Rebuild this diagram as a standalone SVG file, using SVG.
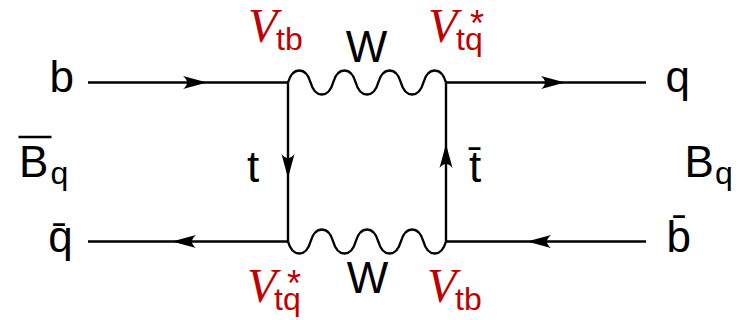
<svg xmlns="http://www.w3.org/2000/svg" xmlns:xlink="http://www.w3.org/1999/xlink" width="737" height="320" viewBox="0 0 737 320">
  <style>
    .lbl { font-family: "Liberation Sans", Arial, sans-serif; font-size: 44px; fill: #000; }
    .sub { font-family: "Liberation Sans", Arial, sans-serif; font-size: 32px; fill: #000; }
    .vc { font-family: "Liberation Serif", "Times New Roman", serif; font-style: italic; font-size: 48px; fill: #c00000; }
    .vs { font-family: "Liberation Sans", Arial, sans-serif; font-style: normal; font-size: 32px; fill: #c00000; }
    .vst { font-family: "Liberation Sans", Arial, sans-serif; font-style: normal; font-size: 36px; fill: #c00000; }
    .ln { fill: none; stroke: #000; stroke-width: 2.4; stroke-linecap: butt; }
    .bar { fill: none; stroke: #000; stroke-width: 2.6; }
    .ah { fill: #000; stroke: none; }
  </style>
  <defs>
    <path id="wave" class="ln" d="M0,0 C1.693,-6 5.079,-12 11.286,-12 C17.493,-12 20.879,-6 22.571,0 C24.264,6 27.65,12 33.857,12 C40.064,12 43.45,6 45.143,0 C46.836,-6 50.222,-12 56.429,-12 C62.636,-12 66.022,-6 67.714,0 C69.407,6 72.793,12 79,12 C85.207,12 88.593,6 90.286,0 C91.979,-6 95.365,-12 101.571,-12 C107.778,-12 111.164,-6 112.857,0 C114.55,6 117.936,12 124.143,12 C130.35,12 133.736,6 135.429,0 C137.122,-6 140.508,-12 146.714,-12 C152.921,-12 156.307,-6 158,0"/>
    <path id="arr" class="ah" d="M0,0 L-24,-6.5 Q-16,0 -24,6.5 Z"/>
  </defs>

  <g id="connectors">
    <line class="ln" x1="88" y1="82.5" x2="288" y2="82.5"/>
    <line class="ln" x1="446" y1="82.5" x2="646" y2="82.5"/>
    <line class="ln" x1="88" y1="241.5" x2="288" y2="241.5"/>
    <line class="ln" x1="446" y1="241.5" x2="646" y2="241.5"/>
    <line class="ln" x1="288" y1="82.5" x2="288" y2="241.5"/>
    <line class="ln" x1="446" y1="82.5" x2="446" y2="241.5"/>
    <use xlink:href="#wave" href="#wave" transform="translate(288,82.5)"/>
    <use xlink:href="#wave" href="#wave" transform="translate(288,241.5) scale(1,-1)"/>
    <use xlink:href="#arr" href="#arr" transform="translate(207,82.5)"/>
    <use xlink:href="#arr" href="#arr" transform="translate(565,82.5)"/>
    <use xlink:href="#arr" href="#arr" transform="translate(172,241.5) rotate(180)"/>
    <use xlink:href="#arr" href="#arr" transform="translate(527,241.5) rotate(180)"/>
    <use xlink:href="#arr" href="#arr" transform="translate(288,178) rotate(90)"/>
    <use xlink:href="#arr" href="#arr" transform="translate(446,144) rotate(-90)"/>
  </g>

  <g id="ext-b"><text class="lbl" x="49.5" y="92">b</text></g>
  <g id="ext-qbar"><text class="lbl" x="48.3" y="252">q̄</text></g>
  <g id="ext-q"><text class="lbl" x="665.5" y="92">q</text></g>
  <g id="ext-bbar"><text class="lbl" x="666.5" y="252">b̄</text></g>

  <g id="meson-Bbar">
    <line class="bar" x1="18.5" y1="137" x2="51.5" y2="137"/>
    <text class="lbl" x="19" y="177">B<tspan class="sub" x="50.5" y="184">q</tspan></text>
  </g>
  <g id="meson-B">
    <text class="lbl" x="684.5" y="177">B<tspan class="sub" x="715" y="184">q</tspan></text>
  </g>

  <g id="prop-t"><text class="lbl" x="247" y="182">t</text></g>
  <g id="prop-tbar"><text class="lbl" x="469" y="182">t̄</text></g>
  <g id="boson-W-top"><text class="lbl" x="366.5" y="62" text-anchor="middle">W</text></g>
  <g id="boson-W-bottom"><text class="lbl" x="367.5" y="293" text-anchor="middle">W</text></g>

  <g id="vertex-tl">
    <text class="vc" x="248" y="42">V<tspan class="vs" x="276" y="50">tb</tspan></text>
  </g>
  <g id="vertex-tr">
    <text class="vc" x="428" y="42">V<tspan class="vst" x="470" y="36">*</tspan><tspan class="vs" x="456" y="50">tq</tspan></text>
  </g>
  <g id="vertex-bl">
    <text class="vc" x="247" y="302">V<tspan class="vst" x="287" y="296">*</tspan><tspan class="vs" x="274" y="310">tq</tspan></text>
  </g>
  <g id="vertex-br">
    <text class="vc" x="427" y="302">V<tspan class="vs" x="455" y="310">tb</tspan></text>
  </g>
</svg>
